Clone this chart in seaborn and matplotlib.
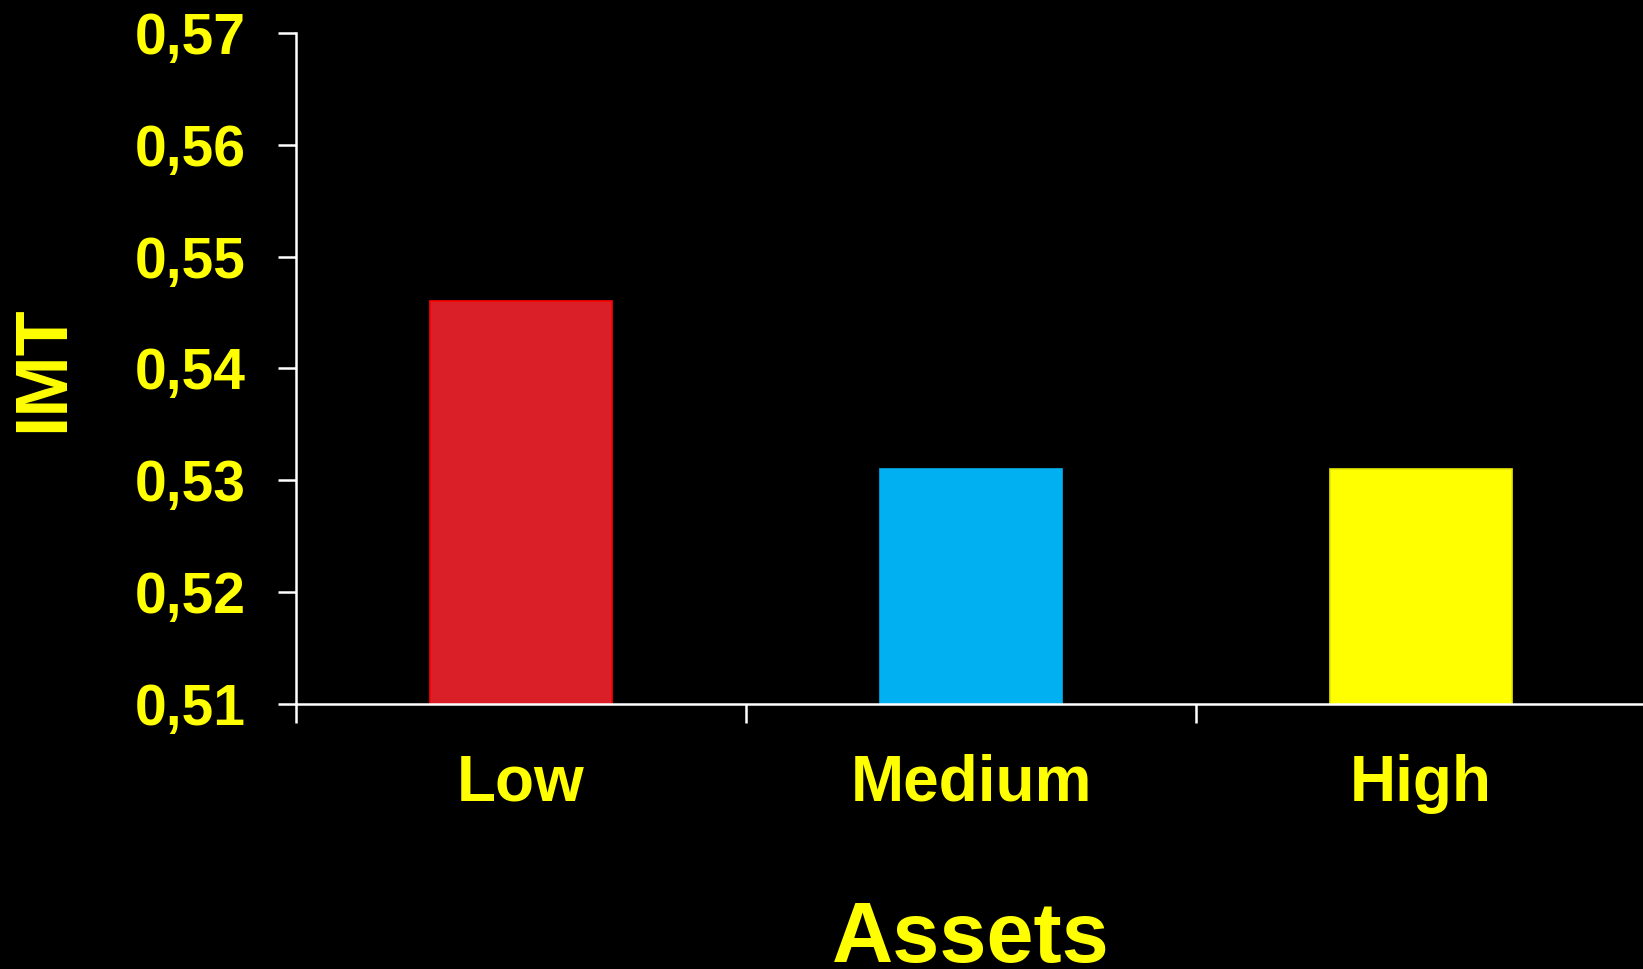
import matplotlib
matplotlib.use("Agg")
import matplotlib.pyplot as plt
import seaborn as sns
import pandas as pd
from matplotlib.ticker import FixedLocator, FixedFormatter

categories = ["Low", "Medium", "High"]
imt_values = [0.546, 0.531, 0.531]
bar_colors = ["#DA1F28", "#00B0F0", "#FFFF00"]
edge_colors = ["#FF0000", "#00B0F0", "#E8E800"]
y_ticks = [0.51, 0.52, 0.53, 0.54, 0.55, 0.56, 0.57]
y_tick_labels = ["0,51", "0,52", "0,53", "0,54", "0,55", "0,56", "0,57"]
x_title = "Assets"
y_title = "IMT"

df = pd.DataFrame({"Assets": categories, "IMT": imt_values})

sns.set_style("dark")
plt.rcParams["font.family"] = ["Liberation Sans", "DejaVu Sans"]
plt.rcParams["font.weight"] = "bold"

fig = plt.figure(figsize=(16.43, 9.69), dpi=100, facecolor="black")
ax = fig.add_axes([0.180, 0.2735, 0.822, 0.6925])
ax.set_facecolor("black")

sns.barplot(data=df, x="Assets", y="IMT", hue="Assets", palette=bar_colors,
            order=categories, hue_order=categories, width=0.405,
            legend=False, ax=ax, saturation=1, errorbar=None)

for patch, ec in zip(ax.patches, edge_colors):
    patch.set_edgecolor(ec)
    patch.set_linewidth(1.2)

ax.set_ylim(0.51, 0.57)
ax.set_xlim(-0.5, 2.5)
ax.grid(False)

for side in ["top", "right"]:
    ax.spines[side].set_visible(False)
for side in ["left", "bottom"]:
    ax.spines[side].set_visible(True)
    ax.spines[side].set_color("white")
    ax.spines[side].set_linewidth(1.8)

ax.yaxis.set_major_locator(FixedLocator(y_ticks))
ax.yaxis.set_major_formatter(FixedFormatter(y_tick_labels))
ax.tick_params(axis="y", which="major", direction="out", length=13, width=1.8,
               color="white", labelcolor="#FFFF00", labelsize=41, pad=23, left=True)
for lab in ax.get_yticklabels():
    lab.set_fontweight("bold")

# category boundary ticks (major) and labels (minor)
ax.xaxis.set_major_locator(FixedLocator([-0.5, 0.5, 1.5, 2.5]))
ax.xaxis.set_major_formatter(FixedFormatter(["", "", "", ""]))
ax.xaxis.set_minor_locator(FixedLocator(range(len(categories))))
ax.xaxis.set_minor_formatter(FixedFormatter(categories))
ax.tick_params(axis="x", which="major", direction="out", length=14, width=1.8,
               color="white", bottom=True)
ax.tick_params(axis="x", which="minor", length=0, labelcolor="#FFFF00",
               labelsize=46, pad=36, bottom=True)
for lab in ax.get_xticklabels(minor=True):
    lab.set_fontweight("bold")

ax.set_xlabel(x_title, color="#FFFF00", fontsize=61, fontweight="bold", labelpad=62)
ax.set_ylabel(y_title, color="#FFFF00", fontsize=53, fontweight="bold", labelpad=41)

fig.savefig("out.png", dpi=100, facecolor="black")
